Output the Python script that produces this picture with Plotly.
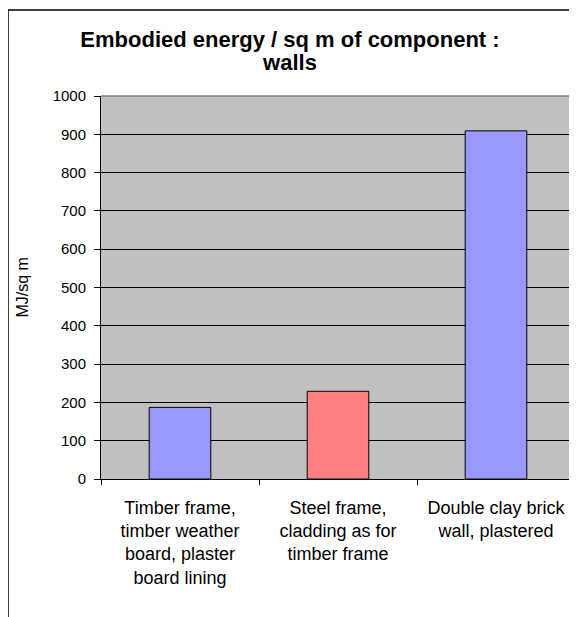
import plotly.graph_objects as go

categories = [
    "Timber frame,<br>timber weather<br>board, plaster<br>board lining",
    "Steel frame,<br>cladding as for<br>timber frame",
    "Double clay brick<br>wall, plastered",
]
values = [187, 229, 909]
bar_colors = ["#9999FF", "#FF8080", "#9999FF"]
y_ticks = [0, 100, 200, 300, 400, 500, 600, 700, 800, 900, 1000]

# page body adds an 8px offset, so the figure is sized to fill the rest
W, H = 569, 609
L, R, T, B = 93, 2, 88, 138
pw, ph = W - L - R, H - T - B

def px_x(x):
    return (x - L) / pw

def px_y(y):
    return (H - B - y) / ph

font = "Liberation Sans, Arial, sans-serif"
title_lines = ["Embodied energy / sq m of component :", "walls"]
title_text = "<br>".join(f"<span style='font-size:22px'><b>{t}</b></span>" for t in title_lines)

fig = go.Figure(
    go.Bar(
        x=categories,
        y=values,
        marker=dict(color=bar_colors, line=dict(color="black", width=1)),
        width=0.39,
    )
)

fig.update_layout(
    width=W,
    height=H,
    margin=dict(l=L, r=R, t=T, b=B),
    paper_bgcolor="white",
    plot_bgcolor="#C0C0C0",
    showlegend=False,
    font=dict(family=font, color="black"),
    title=dict(
        text=title_text,
        x=282 / W,
        xref="container",
        xanchor="center",
        y=1 - 39 / H,
        yref="container",
        yanchor="top",
        font=dict(size=18, family=font, color="black"),
    ),
    xaxis=dict(
        tickmode="array",
        tickvals=categories,
        ticktext=categories,
        tickson="boundaries",
        ticks="outside",
        ticklen=5,
        tickcolor="black",
        showline=True,
        linecolor="black",
        linewidth=1,
        showgrid=False,
        ticklabelstandoff=12,
        tickfont=dict(size=18, family=font, color="black"),
        fixedrange=True,
    ),
    yaxis=dict(
        range=[0, 1000],
        tickvals=y_ticks,
        ticks="outside",
        ticklen=6,
        tickcolor="black",
        showline=True,
        linecolor="black",
        linewidth=1,
        showgrid=True,
        gridcolor="black",
        gridwidth=1,
        zeroline=False,
        ticklabelstandoff=5,
        tickfont=dict(size=15, family=font, color="black"),
        fixedrange=True,
    ),
    annotations=[
        dict(
            text="MJ/sq m",
            textangle=-90,
            xref="paper",
            yref="paper",
            x=px_x(14),
            y=0.5,
            xanchor="center",
            yanchor="middle",
            showarrow=False,
            font=dict(size=16, family=font, color="black"),
        )
    ],
    shapes=[
        dict(type="line", xref="paper", yref="paper", x0=0, x1=1, y0=1, y1=1,
             line=dict(color="#808080", width=1.5), layer="above"),
        dict(type="line", xref="paper", yref="paper", x0=1, x1=1, y0=0, y1=1,
             line=dict(color="#808080", width=1.5), layer="above"),
        dict(type="rect", xref="paper", yref="paper",
             x0=px_x(0), x1=px_x(W + 20), y0=px_y(H + 20), y1=px_y(2),
             line=dict(color="black", width=1.5), fillcolor="rgba(0,0,0,0)", layer="below"),
    ],
)

fig.write_html("out.html")
